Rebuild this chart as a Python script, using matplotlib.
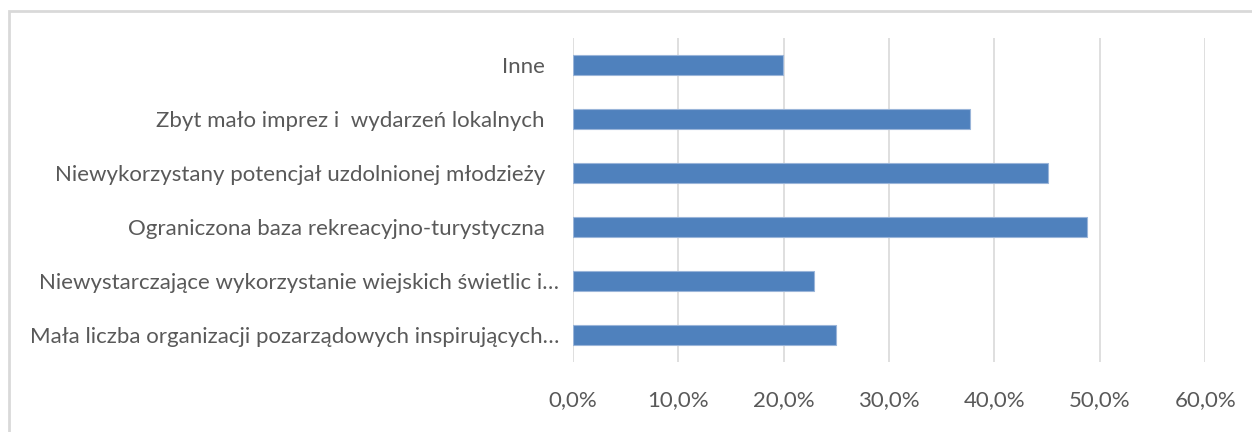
import matplotlib
matplotlib.use("Agg")
import matplotlib.pyplot as plt
from matplotlib.patches import Rectangle
from matplotlib.ticker import FuncFormatter
import matplotlib.transforms as mtransforms

categories = [
    "Mała liczba organizacji pozarządowych inspirujących…",
    "Niewystarczające wykorzystanie wiejskich świetlic i…",
    "Ograniczona baza rekreacyjno-turystyczna",
    "Niewykorzystany potencjał uzdolnionej młodzieży",
    "Zbyt mało imprez i  wydarzeń lokalnych",
    "Inne",
]
values = [0.250, 0.229, 0.488, 0.451, 0.377, 0.199]
xticks = [0.0, 0.1, 0.2, 0.3, 0.4, 0.5, 0.6]

W, H = 1252, 432
fig = plt.figure(figsize=(W / 100, H / 100), dpi=100)
fig.patch.set_facecolor("white")

# chart border
fig.patches.append(Rectangle((9 / W, -0.1), 1.2, 1.1 - 11 / H, transform=fig.transFigure,
                             fill=False, edgecolor="#d9d9d9", linewidth=2, zorder=0))

ax = fig.add_axes([572.8 / W, 1 - 362 / H, (1205.2 - 572.8) / W, (362 - 38) / H])
ypos = list(range(len(categories)))
ax.barh(ypos, values, height=0.36, color="#4f81bd", edgecolor="#9ab5d9", linewidth=0.8, zorder=3)
ax.set_xlim(0, 0.6)
ax.set_ylim(-0.5, len(categories) - 0.5)
ax.set_xticks(xticks)
ax.xaxis.set_major_formatter(FuncFormatter(lambda v, p: f"{v*100:.1f}%".replace(".", ",")))
ax.set_yticks(ypos)
ax.set_yticklabels(categories)
ax.grid(axis="x", color="#d9d9d9", linewidth=1.2, zorder=0)
for s in ax.spines.values():
    s.set_visible(False)
ax.tick_params(axis="both", length=0, colors="#595959")
ax.tick_params(axis="x", pad=20, labelsize=16)
ax.tick_params(axis="y", pad=10, labelsize=16)
for lab in ax.get_xticklabels() + ax.get_yticklabels():
    lab.set_fontfamily("Lato")
    lab.set_color("#595959")
for lab, txt in zip(ax.get_yticklabels(), categories):
    if not txt.endswith("…"):
        lab.set_transform(lab.get_transform() + mtransforms.ScaledTranslation(-14 / 100, 0, fig.dpi_scale_trans))

fig.savefig("out.png", dpi=100, facecolor="white")
